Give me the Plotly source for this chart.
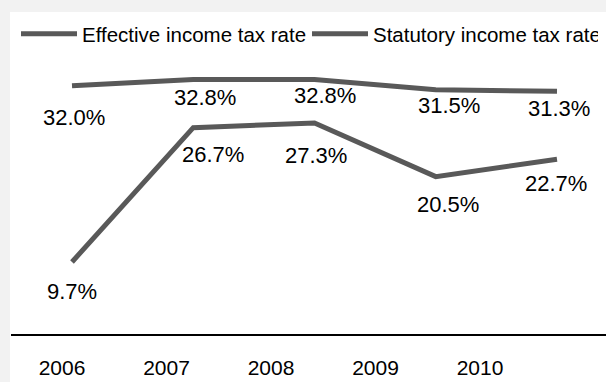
import plotly.graph_objects as go

# ---- data ----
years = ["2006", "2007", "2008", "2009", "2010"]
effective_rate = [9.7, 26.7, 27.3, 20.5, 22.7]
statutory_rate = [32.0, 32.8, 32.8, 31.5, 31.3]
series_names = ["Effective income tax rate", "Statutory income tax rate"]

# ---- style ----
W, H = 606, 382
ML, MR, MT, MB = 11, 0, 60, 48
PW, PH = W - ML - MR, H - MT - MB
LINE_COLOR = "#595959"
FONT = "Liberation Sans, Arial, sans-serif"
PX_PER_PCT = 7.9
ZERO_BELOW = 4.6  # px from plot bottom down to the 0 % level

# label nudges (px) to mimic the hand-placed labels
eff_dx = [0, 20, 1, 12, -1]
eff_dy = [30, 26.5, 32.5, 28, 24]
sta_dx = [1.5, 12, 10, 13, 2]
sta_dy = [32, 18.5, 16.5, 16, 17]

fig = go.Figure()

fig.add_trace(go.Scatter(
    x=years, y=effective_rate, mode="lines", name=series_names[0],
    line=dict(color=LINE_COLOR, width=5), hoverinfo="skip"))
fig.add_trace(go.Scatter(
    x=years, y=statutory_rate, mode="lines", name=series_names[1],
    line=dict(color=LINE_COLOR, width=5), hoverinfo="skip"))
# invisible carrier trace for the category tick labels
fig.add_trace(go.Scatter(
    x=years, y=[None] * len(years), xaxis="x2", mode="lines",
    showlegend=False, hoverinfo="skip"))

annotations = []
for vals, dxs, dys in ((effective_rate, eff_dx, eff_dy), (statutory_rate, sta_dx, sta_dy)):
    for i, (v, dx, dy) in enumerate(zip(vals, dxs, dys)):
        annotations.append(dict(
            x=i, y=v, xref="x", yref="y", text=f"{v:.1f}%", showarrow=False,
            xshift=dx, yshift=-dy, xanchor="center", yanchor="middle",
            font=dict(family=FONT, size=22, color="#000000")))

# clipped caption at the very top
annotations.append(dict(
    x=(13 - ML) / PW, y=1 + (MT + 6) / PH, xref="paper", yref="paper",
    text="(Fiscal year)", showarrow=False, xanchor="left", yanchor="bottom",
    font=dict(family=FONT, size=27, color="#000000")))

px_per_cat = 121.25
x0_px = 72
ppc2 = 104.5
x0_px2 = 62

ymin = ZERO_BELOW / PX_PER_PCT
fig.update_layout(
    width=W, height=H,
    margin=dict(l=ML, r=MR, t=MT, b=MB, pad=0, autoexpand=False),
    paper_bgcolor="#f2f2f2",
    plot_bgcolor="rgba(0,0,0,0)",
    font=dict(family=FONT, size=21, color="#000000"),
    showlegend=True,
    legend=dict(
        orientation="h", x=(16 - ML) / PW, y=1 + (MT - 34) / PH,
        xanchor="left", yanchor="middle",
        font=dict(family=FONT, size=20.5, color="#000000"),
        bgcolor="rgba(0,0,0,0)", itemwidth=56, entrywidth=220,
        tracegroupgap=0),
    xaxis=dict(
        type="category",
        range=[(ML - x0_px) / px_per_cat, (W - x0_px) / px_per_cat],
        showticklabels=False, showgrid=False, zeroline=False,
        showline=True, linecolor="#000000", linewidth=1.5, ticks=""),
    xaxis2=dict(
        type="category", overlaying="x", anchor="y", side="bottom",
        range=[(ML - x0_px2) / ppc2, (W - x0_px2) / ppc2],
        showgrid=False, zeroline=False, showline=False, ticks="",
        ticklabelstandoff=19,
        tickfont=dict(family=FONT, size=21, color="#000000")),
    yaxis=dict(range=[ymin, ymin + PH / PX_PER_PCT], visible=False,
               showgrid=False, zeroline=False),
    annotations=annotations,
    shapes=[dict(
        type="rect", xref="paper", yref="paper", layer="below",
        x0=(10 - ML) / PW, x1=1.01, y0=-(MB + 2) / PH, y1=1 + (MT - 12) / PH,
        fillcolor="#ffffff", line=dict(width=0))],
)

fig.write_html("out.html")
